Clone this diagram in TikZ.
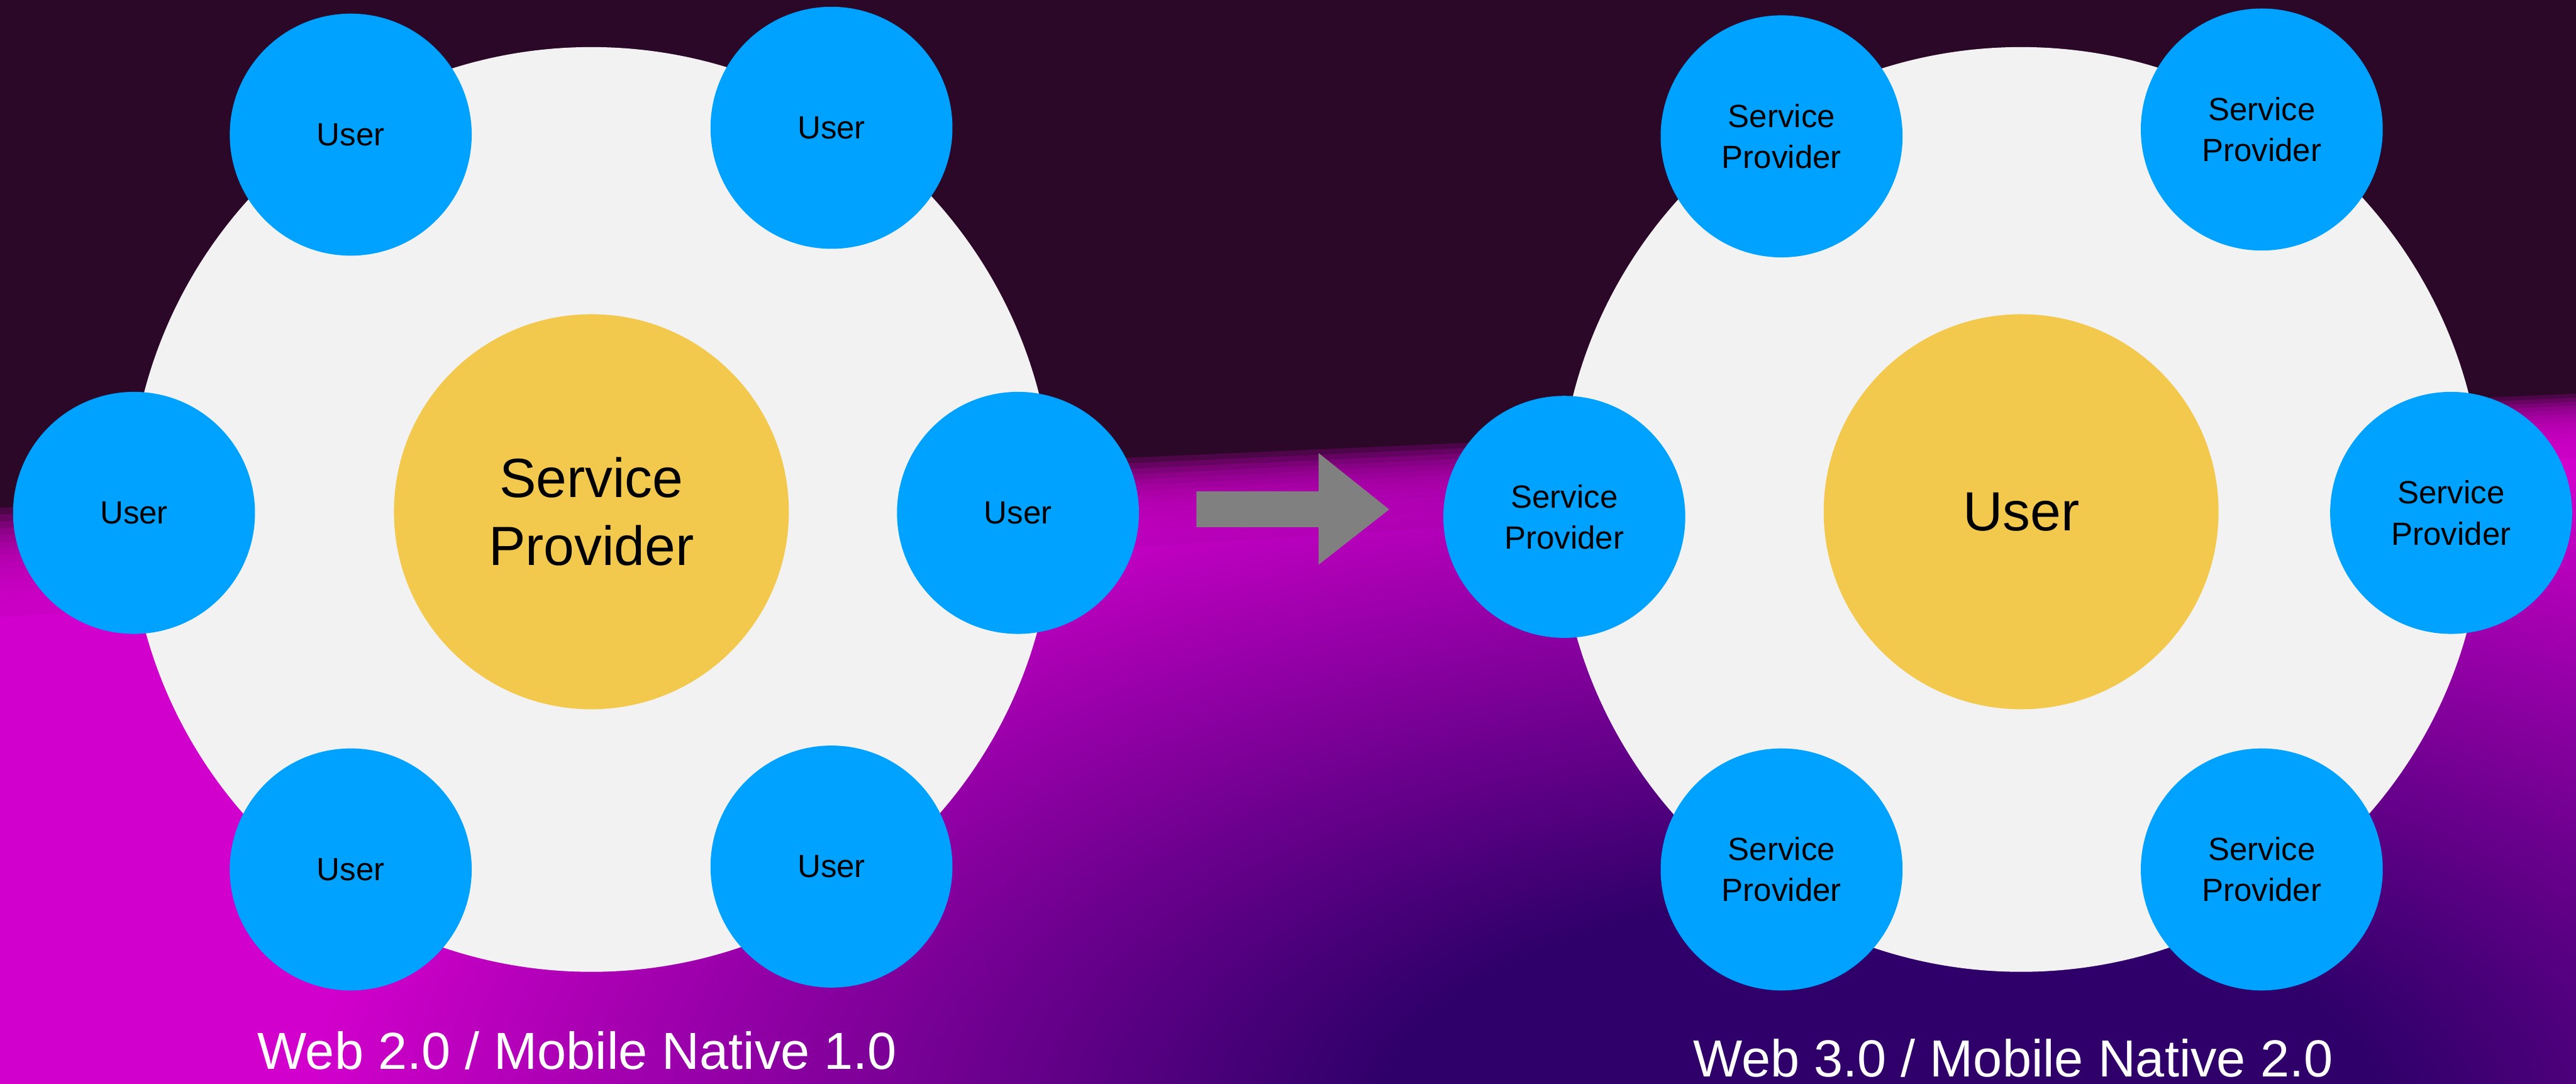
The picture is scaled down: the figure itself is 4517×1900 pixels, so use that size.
\documentclass[tikz,border=0pt]{standalone}
\usepackage{fontspec}
\setmainfont{Liberation Sans}
\usetikzlibrary{fadings}

\definecolor{bgdark}{HTML}{2C0828}
\definecolor{bgpink}{HTML}{D200CC}
\definecolor{bgindigo}{HTML}{30006A}
\definecolor{ringgray}{HTML}{F2F2F2}
\definecolor{hubyellow}{HTML}{F2C94C}
\definecolor{nodeblue}{HTML}{00A2FF}
\definecolor{arrowgray}{HTML}{808080}

% soft blob for the lower right corner
\pgfdeclareradialshading{indigoshade}{\pgfpointorigin}{color(0bp)=(pgftransparent!0); color(8bp)=(pgftransparent!0); color(25bp)=(pgftransparent!100); color(50bp)=(pgftransparent!100)}
\pgfdeclarefading{indigofade}{\pgfuseshading{indigoshade}}

\tikzset{
  ring/.style={circle, fill=ringgray, minimum size=16.2cm, inner sep=0pt},
  hub/.style={circle, fill=hubyellow, minimum size=6.92cm, inner sep=0pt,
    align=center, font=\fontsize{27.5}{34}\selectfont},
  spoke/.style={circle, fill=nodeblue, minimum size=4.24cm, inner sep=0pt,
    align=center, font=\fontsize{16}{20.5}\selectfont},
  caption/.style={anchor=base, text=white, font=\fontsize{26}{30}\selectfont}
}

\begin{document}
\begin{tikzpicture}[x=0.01cm, y=-0.01cm]
      \useasboundingbox (0,0) rectangle (4517,1900);
      \fill[bgdark] (0,0) rectangle (4517,1900);
      \foreach \k in {0,...,15}
        \fill[bgpink, opacity=0.2] (0,{890+12*\k}) -- (4517,{690+7*\k}) -- (4517,1900) -- (0,1900) -- cycle;
      \fill[bgpink] (0,1082) -- (4517,802) -- (4517,1900) -- (0,1900) -- cycle;
      \begin{scope}
        \clip (0,890) -- (4517,690) -- (4517,1900) -- (0,1900) -- cycle;
        \fill[bgindigo, path fading=indigofade] (3300,1960) ellipse [x radius=2750, y radius=1250];
      \end{scope}

      % web 2.0
      \path
        (1037,893) node[ring] (ring2) {}
        (1037,897) node[hub] (sp) {Service\\Provider}
        (615,236) node[spoke] (u1) {User}
        (1458,224) node[spoke] (u2) {User}
        (235,899) node[spoke] (u3) {User}
        (1785,899) node[spoke] (u4) {User}
        (615,1524) node[spoke] (u5) {User}
        (1458,1519) node[spoke] (u6) {User}
        (1012,1874) node[caption] (cap2) {Web 2.0 / Mobile Native 1.0};

      \fill[arrowgray] (2098,861) -- (2312,861) -- (2312,794) -- (2436,893)
        -- (2312,990) -- (2312,924) -- (2098,924) -- cycle;

      % web 3.0
      \path
        (3544,893) node[ring] (ring3) {}
        (3544,897) node[hub] (user) {User}
        (3124,239) node[spoke] (sp1) {Service\\Provider}
        (3966,227) node[spoke] (sp2) {Service\\Provider}
        (2743,906) node[spoke] (sp3) {Service\\Provider}
        (4298,899) node[spoke] (sp4) {Service\\Provider}
        (3124,1524) node[spoke] (sp5) {Service\\Provider}
        (3966,1524) node[spoke] (sp6) {Service\\Provider}
        (3530,1887) node[caption] (cap3) {Web 3.0 / Mobile Native 2.0};
    \end{tikzpicture}
\end{document}
